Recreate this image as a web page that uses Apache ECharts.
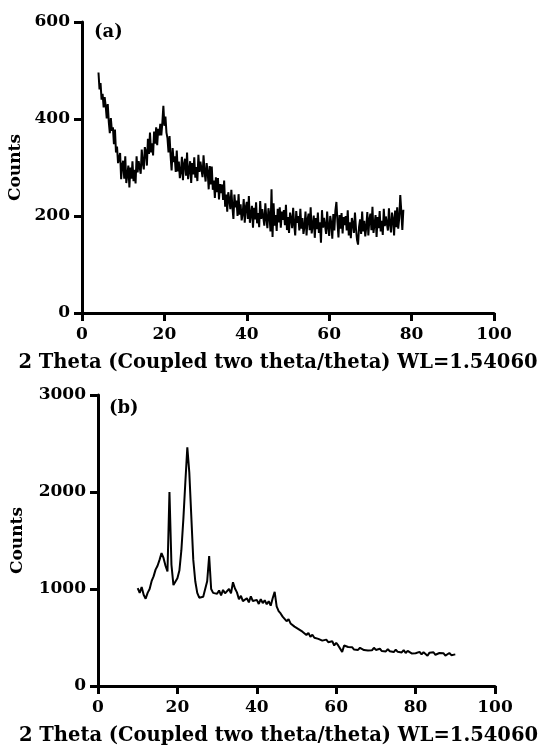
<!DOCTYPE html>
<html>
<head>
<meta charset="utf-8">
<script src="https://cdn.jsdelivr.net/npm/echarts@6/dist/echarts.min.js"></script>
<style>
  html, body { margin: 0; padding: 0; background: #fff; }
  #chart { width: 548px; height: 746px; }
</style>
</head>
<body>
<div id="chart"></div>
<script>
// Pattern (a): 2θ from 4 to 78 deg, sampled every 0.25 deg
const thetaStartA = 4;
const thetaStepA = 0.25;
const countsA = [
  496, 461, 474, 440, 452, 424, 445, 427, 401, 431, 394, 371, 402, 376, 383, 348, 378, 331, 343, 309,
  306, 330, 276, 305, 314, 277, 323, 268, 285, 304, 259, 300, 277, 313, 272, 295, 267, 323, 290, 313,
  313, 287, 337, 309, 296, 342, 333, 304, 359, 328, 372, 331, 350, 325, 374, 349, 383, 346, 380, 366,
  390, 366, 392, 427, 386, 405, 372, 360, 331, 365, 324, 294, 340, 311, 323, 291, 335, 292, 312, 278,
  291, 322, 274, 307, 318, 283, 331, 276, 294, 313, 268, 309, 286, 321, 279, 301, 272, 326, 291, 312,
  310, 280, 325, 291, 271, 309, 292, 255, 303, 265, 302, 254, 273, 237, 280, 249, 278, 234, 266, 247,
  265, 233, 273, 219, 244, 209, 249, 235, 214, 254, 219, 194, 244, 218, 232, 200, 245, 203, 224, 191,
  205, 235, 186, 218, 229, 194, 241, 186, 203, 221, 176, 217, 193, 228, 185, 206, 177, 231, 194, 214,
  210, 180, 226, 194, 175, 216, 201, 168, 255, 157, 226, 180, 202, 169, 215, 187, 218, 176, 209, 192,
  212, 181, 223, 171, 198, 165, 207, 195, 175, 217, 183, 160, 210, 186, 200, 170, 215, 174, 196, 163,
  178, 209, 160, 193, 205, 171, 218, 164, 181, 201, 155, 196, 173, 207, 165, 187, 145, 212, 176, 196,
  193, 163, 209, 177, 159, 200, 186, 153, 204, 170, 211, 229, 189, 156, 202, 174, 206, 164, 198, 181,
  200, 170, 212, 160, 187, 154, 196, 184, 165, 207, 174, 151, 141, 178, 193, 163, 209, 168, 190, 158,
  177, 208, 160, 193, 205, 171, 219, 165, 183, 202, 157, 198, 175, 210, 168, 190, 161, 215, 179, 199,
  200, 170, 216, 184, 166, 207, 193, 160, 211, 177, 218, 174, 196, 243, 209, 171, 213
];

// Pattern (b): 2θ from 10 to 90 deg, sampled every 0.5 deg
const thetaStartB = 10;
const thetaStepB = 0.5;
const countsB = [
  1010, 960, 1020, 940, 900, 960, 1000, 1080, 1130, 1200,
  1240, 1300, 1370, 1320, 1240, 1180, 2000, 1250, 1040, 1020,
  1110, 1190, 1400, 1720, 2100, 2460, 2200, 1750, 1300, 1080,
  960, 910, 900, 920, 1000, 1080, 1340, 1000, 960, 980,
  950, 985, 935, 990, 955, 945, 1000, 955, 1070, 1005,
  965, 895, 930, 875, 858, 905, 862, 925, 876, 868,
  888, 846, 895, 855, 884, 842, 874, 828, 905, 970,
  820, 772, 748, 715, 700, 668, 690, 645, 662, 612,
  608, 586, 575, 560, 552, 526, 548, 506, 528, 498,
  515, 486, 492, 468, 472, 478, 452, 448, 462, 418,
  446, 418, 435, 352, 418, 398, 402, 386, 400, 376,
  392, 372, 394, 378, 370, 390, 366, 384, 368, 394,
  372, 366, 384, 360, 376, 356, 380, 358, 372, 350,
  374, 352, 366, 346, 370, 340, 362, 344, 336, 356,
  338, 330, 352, 326, 348, 334, 312, 344, 328, 348,
  322, 316, 340, 320, 338, 314, 334, 340, 318, 338,
  326
];

// Axis ticks
const xTicks = [0, 20, 40, 60, 80, 100];
const yTicksA = [0, 200, 400, 600];
const yTicksB = [0, 1000, 2000, 3000];

const panelLabels = ['(a)', '(b)'];
const xTitle = '2 Theta (Coupled two theta/theta) WL=1.54060';
const yTitle = 'Counts';

function pairs(start, step, values) {
  return values.map((v, i) => [+(start + i * step).toFixed(2), v]);
}

const FONT = 'DejaVu Serif';
const axisLineStyle = { color: '#000', width: 3 };
const plainNumber = v => String(v);

function xAxisFor(gridIndex, shiftLeft) {
  return {
    type: 'value', gridIndex,
    min: xTicks[0], max: xTicks[xTicks.length - 1],
    interval: xTicks[1] - xTicks[0],
    name: xTitle, nameLocation: 'middle', nameGap: 40,
    nameTextStyle: { fontFamily: FONT, fontWeight: 'bold', fontSize: 19.5, color: '#000',
                     padding: [0, shiftLeft * 2, 0, 0] },
    axisLine: { show: true, onZero: false, lineStyle: axisLineStyle },
    axisTick: { show: true, length: 8, lineStyle: axisLineStyle },
    axisLabel: { fontFamily: FONT, fontWeight: 'bold', fontSize: 17, color: '#000', margin: 13,
                 formatter: plainNumber },
    splitLine: { show: false }
  };
}

function yAxisFor(gridIndex, ticks, gap) {
  return {
    type: 'value', gridIndex,
    min: ticks[0], max: ticks[ticks.length - 1],
    interval: ticks[1] - ticks[0],
    name: yTitle, nameLocation: 'middle', nameGap: gap,
    nameTextStyle: { fontFamily: FONT, fontWeight: 'bold', fontSize: 17, color: '#000' },
    axisLine: { show: true, onZero: false, lineStyle: axisLineStyle },
    axisTick: { show: true, length: 8, lineStyle: axisLineStyle },
    axisLabel: { fontFamily: FONT, fontWeight: 'bold', fontSize: 17, color: '#000', margin: 12,
                 formatter: plainNumber },
    splitLine: { show: false }
  };
}

const chart = echarts.init(document.getElementById('chart'), null, { renderer: 'canvas' });
chart.setOption({
  backgroundColor: '#fff',
  animation: false,
  title: [
    { text: panelLabels[0], left: 89, top: 18,
      textStyle: { fontFamily: FONT, fontWeight: 'bold', fontSize: 18, color: '#000' } },
    { text: panelLabels[1], left: 104, top: 394,
      textStyle: { fontFamily: FONT, fontWeight: 'bold', fontSize: 18, color: '#000' } }
  ],
  grid: [
    { left: 82, right: 54, top: 22, height: 291, outerBoundsMode: 'none', containLabel: false },
    { left: 98, right: 53, top: 395, height: 291, outerBoundsMode: 'none', containLabel: false }
  ],
  xAxis: [xAxisFor(0, 10), xAxisFor(1, 18)],
  yAxis: [yAxisFor(0, yTicksA, 56), yAxisFor(1, yTicksB, 72)],
  series: [
    {
      type: 'line', xAxisIndex: 0, yAxisIndex: 0,
      data: pairs(thetaStartA, thetaStepA, countsA),
      showSymbol: false, symbol: 'none',
      lineStyle: { color: '#000', width: 2 }
    },
    {
      type: 'line', xAxisIndex: 1, yAxisIndex: 1,
      data: pairs(thetaStartB, thetaStepB, countsB),
      showSymbol: false, symbol: 'none',
      lineStyle: { color: '#000', width: 2 }
    }
  ]
});
</script>
</body>
</html>
